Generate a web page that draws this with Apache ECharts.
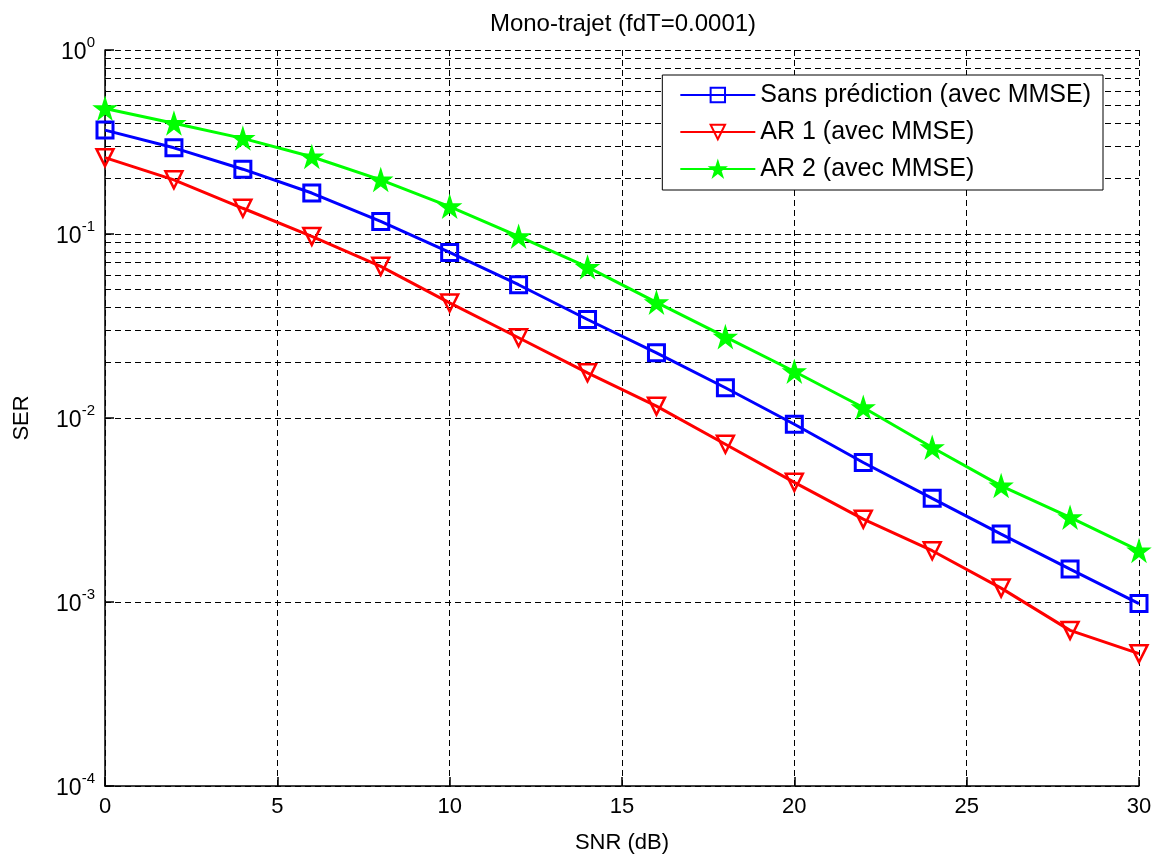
<!DOCTYPE html>
<html>
<head>
<meta charset="utf-8">
<script src="https://cdn.jsdelivr.net/npm/echarts@6/dist/echarts.min.js"></script>
<style>
html,body{margin:0;padding:0;background:#fff;}
#chart{width:1157px;height:859px;}
</style>
</head>
<body>
<div id="chart"></div>
<script>
// ---- data ----
const snr = [0, 2, 4, 6, 8, 10, 12, 14, 16, 18, 20, 22, 24, 26, 28, 30];
const sansPrediction = [0.367, 0.294, 0.225, 0.167, 0.117, 0.0794, 0.053, 0.0343, 0.0226, 0.0146, 0.00925, 0.00573, 0.00366, 0.00234, 0.00151, 0.00098];
const ar1 = [0.26, 0.197, 0.138, 0.097, 0.0667, 0.0422, 0.0273, 0.0176, 0.0116, 0.0072, 0.00447, 0.00282, 0.0019, 0.00119, 0.000701, 0.000524];
const ar2 = [0.481, 0.40, 0.331, 0.263, 0.197, 0.141, 0.097, 0.066, 0.0425, 0.0276, 0.0179, 0.0114, 0.00691, 0.00428, 0.00288, 0.0019];
const seriesNames = ['Sans prédiction (avec MMSE)', 'AR 1 (avec MMSE)', 'AR 2 (avec MMSE)'];
const xTicks = [0, 5, 10, 15, 20, 25, 30];
const yDecades = [-4, -3, -2, -1, 0];

// minor grid positions (2..9 x 10^k)
const minorGrid = [];
for (let k = -4; k < 0; k++) {
  for (let m = 2; m <= 9; m++) minorGrid.push(m * Math.pow(10, k));
}

const FONT = "'Liberation Sans', Arial, sans-serif";
const dash = [6, 4];
const star = 'path://M50,0 L61.2,34.5 L97.6,34.5 L68.2,55.9 L79.4,90.5 L50,69.1 L20.6,90.5 L31.8,55.9 L2.4,34.5 L38.8,34.5 Z';

function pairs(ys) { return snr.map((x, i) => [x, ys[i]]); }

const chart = echarts.init(document.getElementById('chart'), null, {renderer: 'canvas'});
chart.setOption({
  animation: false,
  backgroundColor: '#fff',
  title: {
    text: 'Mono-trajet (fdT=0.0001)',
    left: 618, top: 7, textAlign: 'center',
    textStyle: {fontFamily: FONT, fontSize: 24, fontWeight: 'normal', color: '#000'}
  },
  grid: {left: 105, right: 18, top: 50, bottom: 72, containLabel: false},
  legend: {
    orient: 'vertical',
    right: 54, top: 75,
    backgroundColor: '#fff',
    borderColor: '#000', borderWidth: 1, borderRadius: 0,
    padding: [7, 12, 8, 17],
    itemWidth: 75, itemHeight: 18, itemGap: 11,
    textStyle: {fontFamily: FONT, fontSize: 25, color: '#000', lineHeight: 26},
    data: seriesNames
  },
  xAxis: {
    type: 'value', min: 0, max: 30, interval: 5,
    name: 'SNR (dB)', nameLocation: 'middle', nameGap: 46,
    nameTextStyle: {fontFamily: FONT, fontSize: 22, color: '#000'},
    axisLine: {show: true, onZero: false, lineStyle: {color: '#000', width: 1.5}},
    axisTick: {show: true, inside: true, length: 9, lineStyle: {color: '#000', width: 1.5}},
    axisLabel: {fontFamily: FONT, fontSize: 22, color: '#000', margin: 10,
      formatter: v => xTicks.includes(v) ? String(v) : ''},
    splitLine: {show: true, lineStyle: {color: '#000', width: 1, type: dash}}
  },
  yAxis: {
    type: 'log', logBase: 10, min: 1e-4, max: 1,
    name: 'SER', nameLocation: 'middle', nameGap: 72, nameRotate: 90,
    nameTextStyle: {fontFamily: FONT, fontSize: 22, color: '#000'},
    axisLine: {show: true, onZero: false, lineStyle: {color: '#000', width: 1.5}},
    axisTick: {show: true, inside: true, length: 9, lineStyle: {color: '#000', width: 1.5}},
    axisLabel: {
      margin: 10,
      formatter: v => {
        const e = Math.round(Math.log10(v));
        return yDecades.includes(e) ? '{b|10}{s|' + e + '}' : '';
      },
      rich: {
        b: {fontFamily: FONT, fontSize: 23, color: '#000', verticalAlign: 'bottom', padding: [6, 0, 0, 0]},
        s: {fontFamily: FONT, fontSize: 15, color: '#000', verticalAlign: 'top', padding: [0, 0, 14, 0]}
      }
    },
    splitLine: {show: true, lineStyle: {color: '#000', width: 1, type: dash}}
  },
  series: [
    {
      name: seriesNames[0], type: 'line', data: pairs(sansPrediction),
      symbol: 'rect', symbolSize: 16, showAllSymbol: true,
      lineStyle: {color: '#0000ff', width: 3},
      itemStyle: {color: 'transparent', borderColor: '#0000ff', borderWidth: 3},
      emphasis: {disabled: true}, z: 3,
      markLine: {
        silent: true, symbol: ['none', 'none'], label: {show: false},
        lineStyle: {color: '#000', width: 1, type: dash},
        data: minorGrid.map(v => ({yAxis: v})),
        z: 1
      }
    },
    {
      name: seriesNames[1], type: 'line', data: pairs(ar1),
      symbol: 'triangle', symbolRotate: 180, symbolSize: 17, showAllSymbol: true,
      lineStyle: {color: '#ff0000', width: 3},
      itemStyle: {color: 'transparent', borderColor: '#ff0000', borderWidth: 2.5},
      emphasis: {disabled: true}, z: 3
    },
    {
      name: seriesNames[2], type: 'line', data: pairs(ar2),
      symbol: star, symbolSize: 21, showAllSymbol: true,
      lineStyle: {color: '#00ff00', width: 3},
      itemStyle: {color: '#00ff00', borderColor: '#00ff00', borderWidth: 1.5},
      emphasis: {disabled: true}, z: 3
    }
  ]
});
</script>
</body>
</html>
